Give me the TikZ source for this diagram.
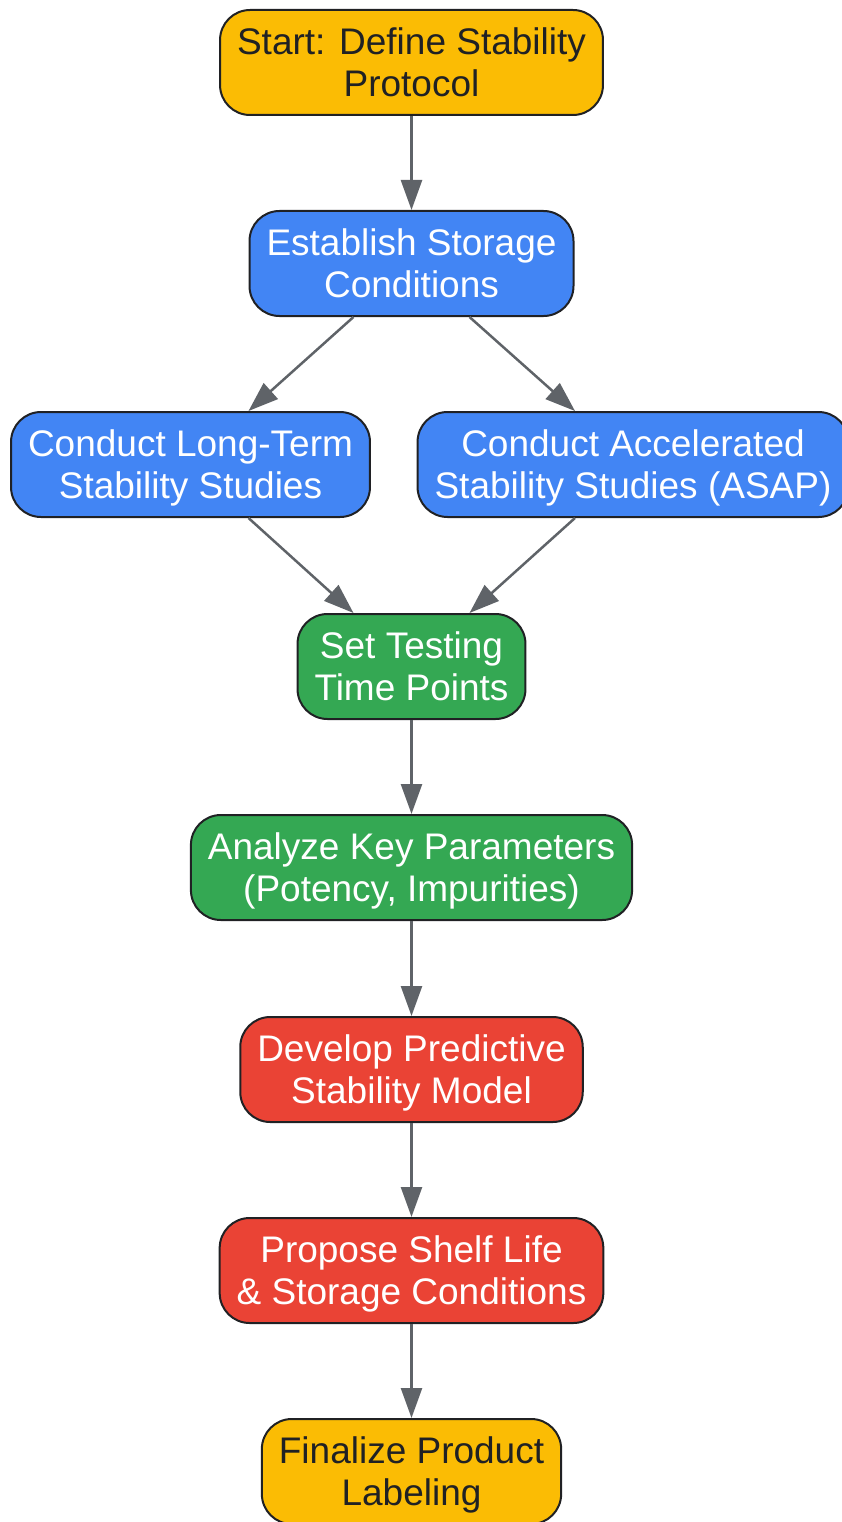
\documentclass[tikz,border=0pt]{standalone}
\usepackage{fontspec}
\setmainfont{Liberation Sans}
\usepackage{tikz}
\usetikzlibrary{arrows.meta}

\definecolor{gyellow}{HTML}{FBBC04}
\definecolor{gblue}{HTML}{4285F4}
\definecolor{ggreen}{HTML}{34A853}
\definecolor{gred}{HTML}{EA4335}
\definecolor{gborder}{HTML}{202124}
\definecolor{garrow}{HTML}{5F6368}

\begin{document}
\begin{tikzpicture}[x=1pt, y=1pt,
    stepbox/.style={draw=gborder, line width=2pt, rounded corners=30pt,
        minimum height=105pt, inner xsep=17pt, inner ysep=4pt, align=center,
        text depth=-3pt, font=\fontsize{37}{42}\selectfont, text=white},
    startbox/.style={stepbox, fill=gyellow, text=gborder},
    setupbox/.style={stepbox, fill=gblue},
    testbox/.style={stepbox, fill=ggreen},
    modelbox/.style={stepbox, fill=gred},
    arr/.style={draw=garrow, line width=2.5pt,
        -{Triangle[length=30pt, width=21pt, fill=garrow]}}]

    % Fix the page to the size of the reference
    \useasboundingbox (0,0) rectangle (841,-1522);

    % Define the horizontal offset of the slanted connectors
    \def\off{58pt}

    % Draw the steps, top to bottom
    \node[startbox] (start) at (411.5,-62.5) {Start: Define Stability\\Protocol};
    \node[setupbox] (storage) at (411.5,-263.5) {Establish Storage\\Conditions};
    \node[setupbox] (longterm) at (190.5,-464.5) {Conduct Long-Term\\Stability Studies};
    \node[setupbox] (accel) at (633,-464.5) {Conduct Accelerated\\Stability Studies (ASAP)};
    \node[testbox] (points) at (411.5,-666.5) {Set Testing\\Time Points};
    \node[testbox] (analyze) at (411.5,-867.5) {Analyze Key Parameters\\(Potency, Impurities)};
    \node[modelbox] (model) at (411.5,-1069.5) {Develop Predictive\\Stability Model};
    \node[modelbox] (propose) at (411.5,-1270.5) {Propose Shelf Life\\\& Storage Conditions};
    \node[startbox] (label) at (411.5,-1471.5) {Finalize Product\\Labeling};

    % Straight connectors
    \foreach \a/\b in {start/storage, points/analyze, analyze/model, model/propose, propose/label}{
        \draw[arr] (\a.south) -- (\b.north);
    }

    % Split and join
    \draw[arr] ([xshift=-\off]storage.south) -- ([xshift=\off]longterm.north);
    \draw[arr] ([xshift=\off]storage.south) -- ([xshift=-\off]accel.north);
    \draw[arr] ([xshift=\off]longterm.south) -- ([xshift=-\off]points.north);
    \draw[arr] ([xshift=-\off]accel.south) -- ([xshift=\off]points.north);

\end{tikzpicture}
\end{document}
